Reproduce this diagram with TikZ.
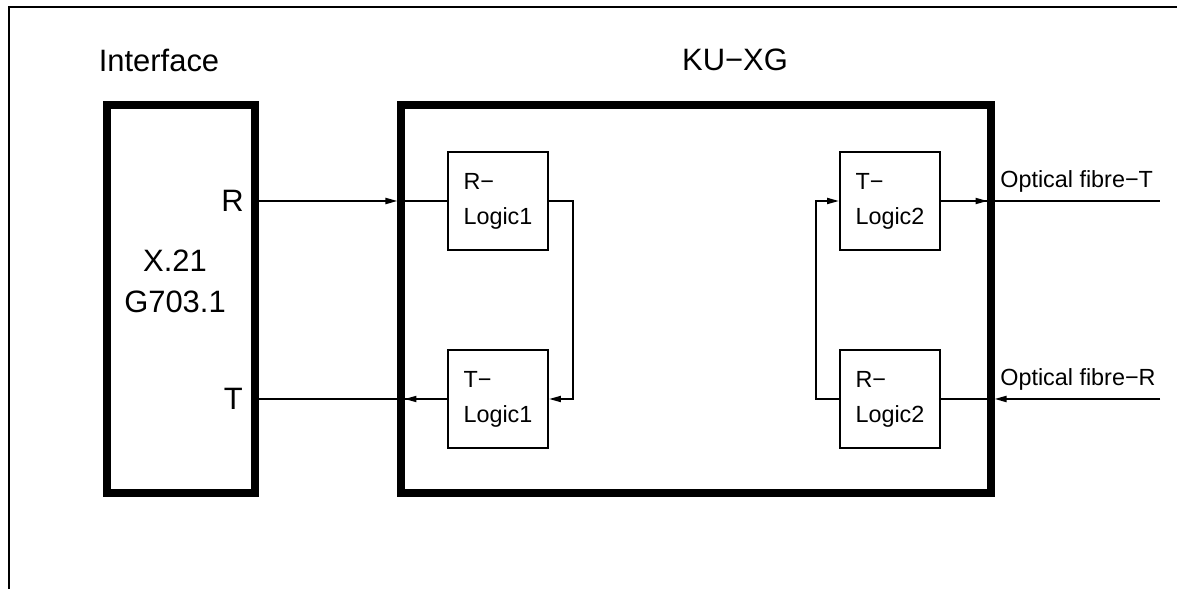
\documentclass[tikz,border=0pt]{standalone}
\usepackage{fontspec}
\setmainfont{Liberation Sans}
\usetikzlibrary{arrows.meta,calc}

\tikzset{
  heavybox/.style={draw, line width=4pt, inner sep=0pt},
  logicbox/.style={draw, line width=1.1pt, minimum width=2cm, minimum height=1.96cm,
    inner sep=0pt, align=left, font=\fontsize{13.3}{19.9}\selectfont},
  wire/.style={line width=1.1pt},
  tip/.style={-{Triangle[length=2.4mm,width=1.2mm]}},
  bigtext/.style={font=\fontsize{17.6}{23.3}\selectfont, inner sep=0pt},
  smalltext/.style={font=\fontsize{13.3}{16}\selectfont, inner sep=0pt},
}

\begin{document}
\begin{tikzpicture}
        \useasboundingbox (0,0) rectangle (23.54,11.78);
        % Frame
        \draw [line width=1.1pt] (0.18,0) -- (0.18,11.64) -- (23.54,11.64);
        % Interface
        \node [bigtext] (ifname) at (3.18,10.58) {Interface};
        \node [heavybox, minimum width=2.96cm, minimum height=7.76cm] (iface) at (3.62,5.80) {};
        \node [bigtext, align=center, font=\fontsize{17.6}{23.4}\selectfont] (istd) at (3.5,6.16) {X.21\\G703.1};
        \node [bigtext, anchor=east] (rport) at (4.88,7.76) {R};
        \node [bigtext, anchor=east] (tport) at (4.86,3.80) {T};
        % KU-XG
        \node [bigtext] (kuname) at (14.7,10.58) {KU−XG};
        \node [heavybox, minimum width=11.8cm, minimum height=7.76cm] (ku) at (13.92,5.80) {};
        \node [logicbox] (rlogicA) at (9.96,7.76) {R−\\Logic1};
        \node [logicbox] (tlogicA) at (9.96,3.80) {T−\\Logic1};
        \node [logicbox] (tlogicB) at (17.8,7.76) {T−\\Logic2};
        \node [logicbox] (rlogicB) at (17.8,3.80) {R−\\Logic2};
        % Fibre ends
        \coordinate (fibreT) at (23.2,7.76);
        \coordinate (fibreR) at (23.2,3.80);
        \node [smalltext, anchor=south west] (fibTname) at (20.0,7.92) {Optical fibre−T};
        \node [smalltext, anchor=south west] (fibRname) at (20.0,3.96) {Optical fibre−R};
        % Left side wires
        \draw [wire,tip] (iface.east |- rlogicA.west) -- (ku.west |- rlogicA.west);
        \draw [wire] (ku.west |- rlogicA.west) -- (rlogicA.west);
        \draw [wire] (tlogicA.west) -- (iface.east |- tlogicA.west);
        \draw [wire,tip] (tlogicA.west) -- ($(ku.west |- tlogicA.west)+(0.14,0)$);
        \draw [wire,tip] (rlogicA.east) -- ++(0.48,0) |- (tlogicA.east);
        % Right side wires
        \draw [wire,tip] (rlogicB.west) -- ++(-0.46,0) |- (tlogicB.west);
        \draw [wire,tip] (tlogicB.east) -- ($(ku.east |- tlogicB.east)+(-0.14,0)$);
        \draw [wire] (tlogicB.east) -- (fibreT);
        \draw [wire,tip] (fibreR) -- (ku.east |- rlogicB.east);
        \draw [wire] (ku.east |- rlogicB.east) -- (rlogicB.east);
\end{tikzpicture}
\end{document}
